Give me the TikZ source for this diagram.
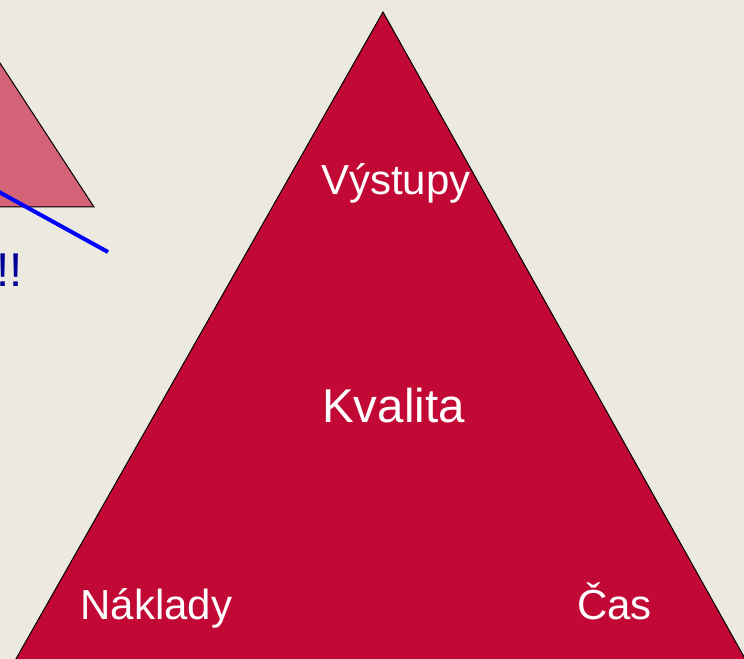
\documentclass[tikz,border=0pt]{standalone}
\usepackage{fontspec}
\setmainfont{Liberation Sans}
\usepackage{tikz}

\definecolor{paper}{RGB}{236,233,224}
\definecolor{crimson}{RGB}{194,9,54}
\definecolor{rose}{RGB}{212,99,120}
\definecolor{navy}{RGB}{0,0,153}

\begin{document}
\begin{tikzpicture}[
		x=0.75pt, y=-0.75pt,
		every node/.style={inner sep=0pt, anchor=base, text=white},
		corner/.style={font=\fontsize{31.5}{36}\selectfont},
		centre/.style={font=\fontsize{35.6}{40}\selectfont}
	]
  \useasboundingbox (0,0) rectangle (744,659);
  \fill[paper] (0,0) rectangle (744,659);
  \clip (0,0) rectangle (744,659);
  % small triangle, cut by the left edge
  \filldraw[fill=rose, draw=black, line width=0.75pt] (-100,-90) -- (94,207) -- (-100,207) -- cycle;
  \draw[blue, line width=3pt] (-10,187) -- (108,252);
  \node (bang) [text=navy, anchor=base east, font=\fontsize{35.6}{40}\selectfont] at (23,287) {!!};
  % main triangle
  \filldraw[fill=crimson, draw=black, line width=0.75pt] (383,12) -- (757,680) -- (4,680) -- cycle;
  \node (vystupy) [corner] at (396,195) {Výstupy};
  \node (kvalita) [centre] at (393.5,423) {Kvalita};
  \node (naklady) [corner] at (156.5,620) {Náklady};
  \node (cas) [corner] at (614.5,620) {Čas};
\end{tikzpicture}
\end{document}
